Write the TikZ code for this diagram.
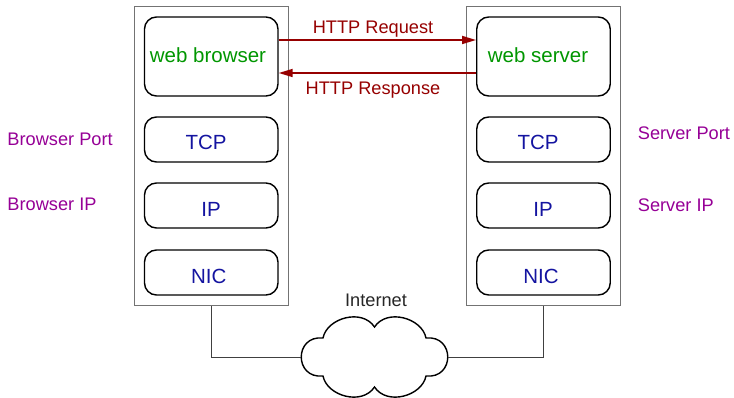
\documentclass[tikz,border=0pt]{standalone}
\usepackage{fontspec}
\setmainfont{Liberation Sans}
\usetikzlibrary{arrows.meta,calc}
\definecolor{layerblue}{RGB}{20,20,160}
\definecolor{appgreen}{RGB}{0,150,0}
\definecolor{addrpurple}{RGB}{150,0,150}
\definecolor{msgred}{RGB}{150,0,0}
\begin{document}
\begin{tikzpicture}[x=1pt,y=-1pt,
  host/.style={draw=black!55, line width=0.9pt, minimum width=154pt, minimum height=299.5pt, inner sep=0pt},
  layer/.style={draw=black, line width=1.4pt, rounded corners=12pt, minimum width=133.5pt, inner sep=0pt},
  bigtxt/.style={anchor=base, inner sep=0pt, font=\fontsize{20.5}{24}\selectfont},
  smalltxt/.style={anchor=base, inner sep=0pt, font=\fontsize{18.2}{22}\selectfont},
  msg/.style={draw=msgred, line width=1.7pt, -{Triangle[length=14pt,width=8pt]}},
  wire/.style={draw=black!75, line width=0.8pt}]
\useasboundingbox (0,0) rectangle (734,398);

% host frames
\node[host] (lhost) at (211,155.75) {};
\node[host] (rhost) at (543.5,155.75) {};

% protocol layers, client side
\node[layer, minimum height=79pt] (wb) at (211.25,56.5) {};
\node[layer, minimum height=45pt] (ltcp) at (211.25,139.5) {};
\node[layer, minimum height=45pt] (lip) at (211.25,205.5) {};
\node[layer, minimum height=45pt] (lnic) at (211.25,272.5) {};

% protocol layers, server side
\node[layer, minimum height=79pt] (ws) at (543.5,56.5) {};
\node[layer, minimum height=45pt] (rtcp) at (543.5,139.5) {};
\node[layer, minimum height=45pt] (rip) at (543.5,205.5) {};
\node[layer, minimum height=45pt] (rnic) at (543.5,272.5) {};

% layer labels
\node[bigtxt, text=appgreen] (wbt) at (208,62.7) {web browser};
\node[bigtxt, text=appgreen] (wst) at (538,62.3) {web server};
\node[bigtxt, text=layerblue] (ltcpt) at (206,150) {TCP};
\node[bigtxt, text=layerblue] (lipt) at (211,216.7) {IP};
\node[bigtxt, text=layerblue] (lnict) at (208.7,283.3) {NIC};
\node[bigtxt, text=layerblue] (rtcpt) at (538,150) {TCP};
\node[bigtxt, text=layerblue] (ript) at (543,216.7) {IP};
\node[bigtxt, text=layerblue] (rnict) at (541,283.3) {NIC};

% addressing labels
\node[smalltxt, anchor=base west, text=addrpurple] (bport) at (7.3,145.7) {Browser Port};
\node[smalltxt, anchor=base west, text=addrpurple] (bip) at (7.3,211) {Browser IP};
\node[smalltxt, anchor=base west, text=addrpurple] (sport) at (637.7,140) {Server Port};
\node[smalltxt, anchor=base west, text=addrpurple] (sip) at (637.7,211.7) {Server IP};

% request / response
\draw[msg] ([yshift=16.5pt]wb.east) -- ([yshift=16.5pt]ws.west);
\draw[msg] ([yshift=-16.5pt]ws.west) -- ([yshift=-16.5pt]wb.east);
\node[smalltxt, text=msgred] (reqt) at (373,34) {HTTP Request};
\node[smalltxt, text=msgred] (rest) at (373,95) {HTTP Response};

% internet cloud
\coordinate (cw) at (301,357);
\coordinate (ce) at (448,357);
\draw[line width=1.4pt, fill=white]
  (323,338) .. controls (327,318) and (362,308) .. (374.5,327)
  .. controls (387,308) and (422,318) .. (426,338)
  .. controls (455,335) and (455,379) .. (426,376)
  .. controls (422,396) and (387,406) .. (374.5,387)
  .. controls (362,406) and (327,396) .. (323,376)
  .. controls (294,379) and (294,335) .. cycle;
\node[smalltxt, text=black!85] (inet) at (376,306) {Internet};

% cabling to the cloud
\draw[wire] (lhost.south) |- (cw);
\draw[wire] (rhost.south) |- (ce);
\end{tikzpicture}
\end{document}
